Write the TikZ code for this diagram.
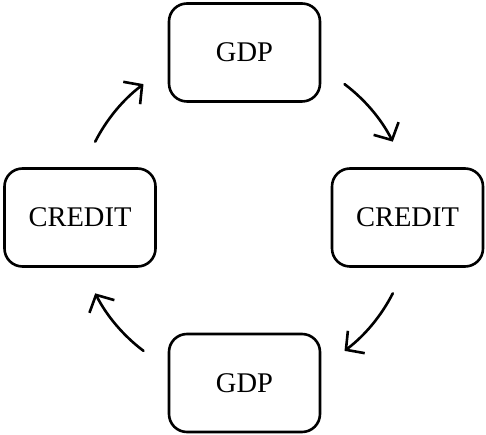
\documentclass[tikz,border=0pt]{standalone}
\usepackage{fontspec}
\setmainfont{Liberation Serif}
\usetikzlibrary{arrows.meta,calc}
\begin{document}
\begin{tikzpicture}[x=1pt,y=1pt,
  box/.style={draw,line width=2.6pt,rounded corners=18pt,minimum width=151pt,minimum height=98pt,inner sep=0pt,font=\fontsize{28.5}{32}\selectfont},
  cyc/.style={line width=2.6pt,line cap=round,-{Straight Barb[length=13pt,width=28pt,line width=2.6pt]}}]
\useasboundingbox (0,0) rectangle (486,435);
\node[box] (g1) at (244.5,382.5) {GDP};
\node[box] (c1) at (407.5,217.5) {CREDIT};
\node[box] (g2) at (244.5,52) {GDP};
\node[box] (c2) at (80,217.5) {CREDIT};
\coordinate (o) at (244,217.5);
\coordinate (s1) at ($(o)+(53:167)$);
\coordinate (s2) at ($(o)+(-27:167)$);
\coordinate (s3) at ($(o)+(233:167)$);
\coordinate (s4) at ($(o)+(153:167)$);
\draw[cyc] (s1) arc[start angle=53,end angle=27,radius=167];
\draw[cyc] (s2) arc[start angle=-27,end angle=-53,radius=167];
\draw[cyc] (s3) arc[start angle=233,end angle=207,radius=167];
\draw[cyc] (s4) arc[start angle=153,end angle=127,radius=167];
\end{tikzpicture}
\end{document}
